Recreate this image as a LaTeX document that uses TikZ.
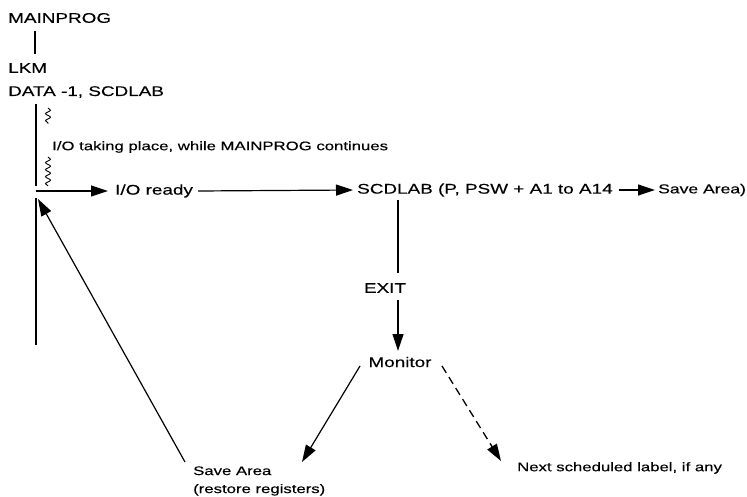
\documentclass[tikz,border=0pt]{standalone}
\usepackage{fontspec}
\setmainfont{Liberation Sans}[FakeStretch=1.35,FakeBold=0.25]
\usetikzlibrary{arrows.meta,decorations.pathmorphing}
\begin{document}
\begin{tikzpicture}[x=1pt,y=-1pt,
  big/.style={font=\fontsize{14}{16}\selectfont, inner sep=0pt},
  small/.style={font=\fontsize{12.4}{18}\selectfont, inner sep=0pt},
  ln/.style={line width=1.2pt},
  arr/.style={line width=1.2pt, -{Triangle[length=17pt,width=11pt]}},
  darr/.style={line width=1.3pt, dash pattern=on 8pt off 5pt, -{Triangle[length=17pt,width=11pt]}},
  squig/.style={line width=0.9pt, decorate, decoration={snake, amplitude=2.5pt, segment length=7pt}}]
\useasboundingbox[fill=white] (0,0) rectangle (747,497);

% texts
\node[big, anchor=west] (main) at (8,18) {MAINPROG};
\node[big, anchor=west] (lkm) at (8,68) {LKM};
\node[big, anchor=west] (data) at (8,92) {DATA -1, SCDLAB};
\node[small, anchor=west] (io) at (52,147) {I/O taking place, while MAINPROG continues};
\node[big, anchor=west] (iord) at (115,191) {I/O ready};
\node[big, anchor=west] (scd) at (357,190) {SCDLAB (P, PSW + A1 to A14};
\node[small, font=\fontsize{13}{16}\selectfont, anchor=west] (sav) at (658,190) {Save Area)};
\node[big] (exit) at (385,288) {EXIT};
\node[big] (mon) at (400,362) {Monitor};
\node[small, anchor=west, align=left] (rest) at (193,481) {Save Area\\(restore registers)};
\node[small, anchor=west] (next) at (517,468) {Next scheduled label, if any};

% coordinates
\coordinate (m1) at (35,31);
\coordinate (m2) at (35,54);
\coordinate (v1) at (36,104);
\coordinate (v2) at (36,186);
\coordinate (v3) at (36,198);
\coordinate (v4) at (36,345);
\coordinate (s1a) at (48,108);
\coordinate (s1b) at (48,124);
\coordinate (s2a) at (48,157);
\coordinate (s2b) at (48,186);
\coordinate (h0) at (36,191);
\coordinate (e0) at (398,200);
\coordinate (e1) at (398,273);
\coordinate (e2) at (398,300);
\coordinate (e3) at (398,351);
\coordinate (a1) at (360,366);
\coordinate (a2) at (302,462);
\coordinate (d1) at (442,366);
\coordinate (d2) at (501,461);
\coordinate (b1) at (185,462);
\coordinate (b2) at (38,199);

% connectors
\draw[ln] (m1) -- (m2);
\draw[ln] (v1) -- (v2);
\draw[ln] (v3) -- (v4);
\draw[squig] (s1a) -- (s1b);
\draw[squig] (s2a) -- (s2b);
\draw[arr] (h0) -- ([xshift=-7pt]iord.west);
\draw[arr] ([xshift=5pt]iord.east) -- ([xshift=-4pt]scd.west);
\draw[arr] ([xshift=6pt]scd.east) -- ([xshift=-3pt]sav.west);
\draw[ln] (e0) -- (e1);
\draw[arr] (e2) -- (e3);
\draw[arr] (a1) -- (a2);
\draw[darr] (d1) -- (d2);
\draw[arr] (b1) -- (b2);
\end{tikzpicture}
\end{document}
